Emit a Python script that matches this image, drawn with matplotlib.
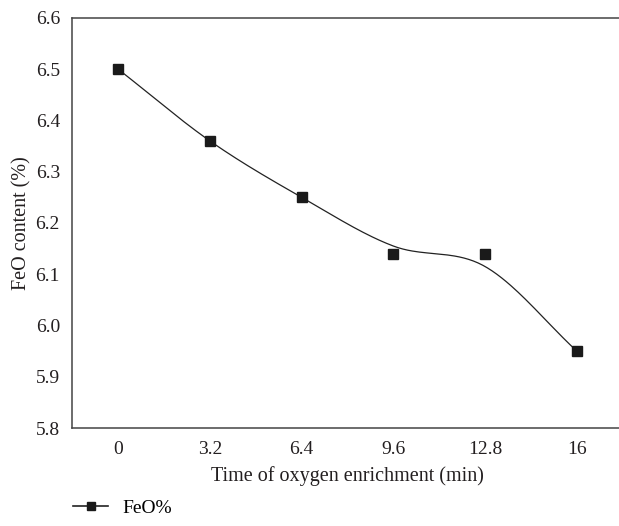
import numpy as np
import matplotlib
matplotlib.use("Agg")
import matplotlib.pyplot as plt
from matplotlib.lines import Line2D

categories = ["0", "3.2", "6.4", "9.6", "12.8", "16"]
feo_values = [6.50, 6.36, 6.25, 6.14, 6.14, 5.95]
# smoothed trend curve knots
curve_knots = [6.50, 6.36, 6.25, 6.155, 6.115, 5.95]
y_ticks = [5.8, 5.9, 6.0, 6.1, 6.2, 6.3, 6.4, 6.5, 6.6]

plt.rcParams['font.family'] = ['Liberation Serif', 'DejaVu Serif']

fig = plt.figure(figsize=(6.19, 5.26), dpi=100)
ax = fig.add_axes([0.117, 0.1863, 0.889, 0.7795])

x = np.arange(len(categories))

# Catmull-Rom smoothing through knots
def catmull_rom(xk, yk, n=40):
    xk = np.asarray(xk, float); yk = np.asarray(yk, float)
    P = np.column_stack([xk, yk])
    P = np.vstack([2 * P[0] - P[1], P, 2 * P[-1] - P[-2]])
    out = []
    for i in range(1, len(P) - 2):
        p0, p1, p2, p3 = P[i - 1], P[i], P[i + 1], P[i + 2]
        t = np.linspace(0, 1, n)[:, None]
        seg = 0.5 * ((2 * p1) + (-p0 + p2) * t + (2 * p0 - 5 * p1 + 4 * p2 - p3) * t ** 2
                     + (-p0 + 3 * p1 - 3 * p2 + p3) * t ** 3)
        out.append(seg if i == 1 else seg[1:])
    out = np.vstack(out)
    return out[:, 0], out[:, 1]

cx, cy = catmull_rom(x, curve_knots)
ax.plot(cx, cy, color='#222222', lw=0.9, zorder=2)
ax.plot(x, feo_values, linestyle='none', marker='s', markersize=7,
        color='#1a1a1a', zorder=3)

ax.set_xlim(-0.5, len(categories) - 0.5)
ax.set_ylim(5.8, 6.6)
ax.set_xticks(x)
ax.set_xticklabels(categories)
ax.set_yticks(y_ticks)
ax.set_yticklabels([f"{v:.1f}" for v in y_ticks])
ax.tick_params(length=0, labelsize=14, colors='#231f20')
ax.tick_params(axis='x', pad=9)
ax.tick_params(axis='y', pad=9)

for s in ['left', 'top', 'bottom']:
    ax.spines[s].set_color('#444444')
    ax.spines[s].set_linewidth(1.1)
ax.spines['right'].set_visible(False)

ax.set_xlabel("Time of oxygen enrichment (min)", fontsize=14.5, color='#231f20', labelpad=6)
ax.set_ylabel("FeO content (%)", fontsize=14.5, color='#231f20', labelpad=3)

handle = Line2D([], [], color='#222222', lw=1.2, marker='s', markersize=6,
                markerfacecolor='#1a1a1a', markeredgecolor='#1a1a1a')
fig.legend([handle], ["FeO%"], loc='center left', bbox_to_anchor=(0.118, 0.034),
           frameon=False, fontsize=14, handlelength=1.8, handletextpad=0.75,
           borderpad=0, borderaxespad=0)

fig.savefig("out.png", dpi=100)
